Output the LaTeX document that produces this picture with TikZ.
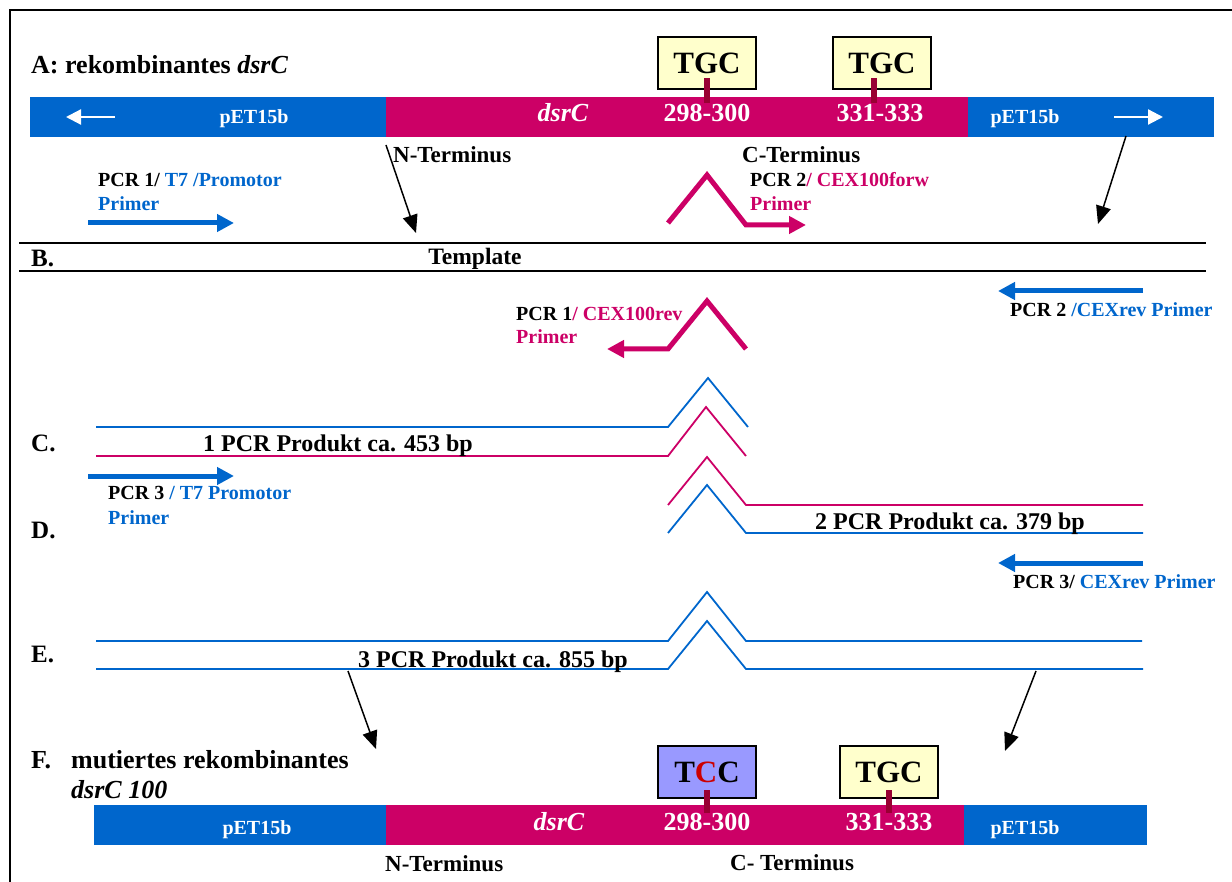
\documentclass[tikz,border=0pt]{standalone}
\usepackage{fontspec}
\setmainfont{Liberation Serif}
\usetikzlibrary{arrows,arrows.meta,positioning}
\definecolor{vecblue}{HTML}{0066CC}
\definecolor{genred}{HTML}{CC0066}
\definecolor{stemred}{HTML}{990033}
\definecolor{codonyellow}{HTML}{FFFFCC}
\definecolor{codonlila}{HTML}{9999FF}
\definecolor{mutred}{HTML}{CC0000}

\begin{document}
\begin{tikzpicture}[x=1pt,y=-1pt,
		lbl/.style={inner sep=0pt,anchor=base west,font=\fontsize{#1}{#1}\selectfont\bfseries},
		lbl/.default=20,
		bartxt/.style={inner sep=0pt,anchor=base,text=white,font=\fontsize{#1}{#1}\selectfont\bfseries},
		bartxt/.default=20,
		genetxt/.style={inner sep=0pt,anchor=base,text=white,font=\fontsize{26}{26}\selectfont\bfseries\itshape},
		codon/.style={draw,line width=1.5pt,minimum width=98pt,minimum height=52pt,inner sep=0pt,font=\fontsize{31}{31}\selectfont\bfseries},
		stem/.style={fill=stemred},
		strand/.style={line width=1.8pt,line join=miter},
		primer/.style={line width=5pt,line join=miter,-{Triangle[length=17pt,width=17pt]}},
		pointer/.style={line width=1.5pt,-{Triangle[length=18pt,width=15pt]}},
		barrow/.style={white,line width=2.2pt,-{Triangle[length=15pt,width=15pt]}}]
		\useasboundingbox (0,0) rectangle (1232,882);
		\draw[line width=1.6pt] (10,882) -- (10,10) -- (1232,10);

		% A: rekombinantes dsrC
		\node[lbl=26] (titleA) at (31,74) {A: rekombinantes \textit{dsrC}};
		\fill[vecblue] (30,97) rectangle (386,137);
		\fill[genred] (386,97) rectangle (968,137);
		\fill[vecblue] (968,97) rectangle (1214,137);
		\node[codon,fill=codonyellow] (codA1) at (707,63) {TGC};
		\node[codon,fill=codonyellow] (codA2) at (882,63) {TGC};
		\fill[stem] (704,78) rectangle (710,103);
		\fill[stem] (871,78) rectangle (877,103);
		\node[bartxt] (vecA1) at (254,124) {pET15b};
		\node[genetxt] (geneA) at (563,122) {dsrC};
		\node[bartxt=26] (posA1) at (707,122) {298-300};
		\node[bartxt=26] (posA2) at (880,122) {331-333};
		\node[bartxt] (vecA2) at (1025,124) {pET15b};
		\coordinate (arrA1s) at (115,117);
		\coordinate (arrA1e) at (66,117);
		\coordinate (arrA2s) at (1114,117);
		\coordinate (arrA2e) at (1163,117);
		\draw[barrow] (arrA1s) -- (arrA1e);
		\draw[barrow] (arrA2s) -- (arrA2e);
		\node[lbl=23] (nTermA) at (393,163) {N-Terminus};
		\node[lbl=23] (cTermA) at (742,163) {C-Terminus};

		% primers PCR 1 forw / PCR 2 forw
		\node[lbl] (pcr1f) at (98,187) {PCR 1/ {\color{vecblue}T7 /Promotor}};
		\node[lbl,text=vecblue] (pcr1fP) at (98,211) {Primer};
		\coordinate (t7As) at (88,223);
		\coordinate (t7Ae) at (234,223);
		\draw[primer,vecblue] (t7As) -- (t7Ae);
		\node[lbl] (pcr2f) at (750,187) {PCR 2{\color{genred}/ CEX100forw}};
		\node[lbl,text=genred] (pcr2fP) at (750,211) {Primer};
		\coordinate (cexFs) at (668,223);
		\coordinate (cexFe) at (806,225);
		\draw[primer,genred] (cexFs) -- (707,175) -- (746,225) -- (cexFe);

		\coordinate (nTailA) at (386,145);
		\coordinate (nHeadA) at (416,233);
		\coordinate (cTailA) at (1126,136);
		\coordinate (cHeadA) at (1098,224);
		\path[pointer]
		(nTailA) edge (nHeadA)
		(cTailA) edge (cHeadA);

		% B. Template
		\draw[line width=1.6pt] (19,243) -- (1206,243);
		\draw[line width=1.6pt] (19,271) -- (1206,271);
		\node[lbl=25] (secB) at (31,267) {B.};
		\node[lbl=23.5,anchor=base] (template) at (475,265) {Template};

		% reverse primers
		\coordinate (cexRevs) at (1143,291);
		\coordinate (cexReve) at (998,291);
		\draw[primer,vecblue] (cexRevs) -- (cexReve);
		\node[lbl] (pcr2r) at (1010,317) {PCR 2 {\color{vecblue}/CEXrev Primer}};
		\coordinate (c100Rs) at (746,349);
		\coordinate (c100Re) at (607,349);
		\draw[primer,genred] (c100Rs) -- (707,301) -- (668,349) -- (c100Re);
		\node[lbl] (pcr1r) at (516,321) {PCR 1{\color{genred}/ CEX100rev}};
		\node[lbl,text=genred] (pcr1rP) at (516,344) {Primer};

		% C. 1 PCR Produkt
		\draw[strand,vecblue] (96,427) -- (668,427) -- (708,378) -- (748,427);
		\draw[strand,genred] (96,456) -- (668,456) -- (706,407) -- (746,456);
		\node[lbl=25] (secC) at (31,452) {C.};
		\node[lbl=24,anchor=base] (prod1) at (338,452) {1 PCR Produkt ca. 453 bp};
		\coordinate (t7Bs) at (88,476);
		\coordinate (t7Be) at (234,476);
		\draw[primer,vecblue] (t7Bs) -- (t7Be);
		\node[lbl] (pcr3f) at (108,499) {PCR 3 {\color{vecblue}/ T7 Promotor}};
		\node[lbl,text=vecblue] (pcr3fP) at (108,524) {Primer};

		% D. 2 PCR Produkt
		\draw[strand,genred] (668,505) -- (707,457) -- (746,505) -- (1143,505);
		\draw[strand,vecblue] (668,533) -- (707,485) -- (746,533) -- (1143,533);
		\node[lbl=25] (secD) at (31,538) {D.};
		\node[lbl=24,anchor=base] (prod2) at (950,529) {2 PCR Produkt ca. 379 bp};
		\coordinate (cexRev2s) at (1143,563);
		\coordinate (cexRev2e) at (998,563);
		\draw[primer,vecblue] (cexRev2s) -- (cexRev2e);
		\node[lbl] (pcr3r) at (1013,588) {PCR 3/ {\color{vecblue}CEXrev Primer}};

		% E. 3 PCR Produkt
		\draw[strand,vecblue] (96,641) -- (668,641) -- (707,592) -- (746,641) -- (1142,641);
		\draw[strand,vecblue] (96,669) -- (668,669) -- (707,621) -- (746,669) -- (1143,669);
		\node[lbl=25] (secE) at (31,662) {E.};
		\node[lbl=24,anchor=base] (prod3) at (493,667) {3 PCR Produkt ca. 855 bp};
		\coordinate (nTailE) at (348,671);
		\coordinate (nHeadE) at (376,749);
		\coordinate (cTailE) at (1036,671);
		\coordinate (cHeadE) at (1005,751);
		\path[pointer]
		(nTailE) edge (nHeadE)
		(cTailE) edge (cHeadE);

		% F. mutiertes rekombinantes dsrC 100
		\node[lbl=26] (secF) at (31,768) {F.};
		\node[lbl=26] (titleF) at (71,768) {mutiertes rekombinantes};
		\node[lbl=26] (titleF2) at (71,798) {\textit{dsrC 100}};
		\fill[vecblue] (94,805) rectangle (386,845);
		\fill[genred] (386,805) rectangle (964,845);
		\fill[vecblue] (964,805) rectangle (1147,845);
		\node[codon,fill=codonlila] (codF1) at (707,772) {T{\color{mutred}C}C};
		\node[codon,fill=codonyellow] (codF2) at (889,772) {TGC};
		\fill[stem] (704,790) rectangle (710,813);
		\fill[stem] (886,790) rectangle (892,813);
		\node[bartxt] (vecF1) at (257,834) {pET15b};
		\node[genetxt] (geneF) at (559,830) {dsrC};
		\node[bartxt=26] (posF1) at (707,830) {298-300};
		\node[bartxt=26] (posF2) at (889,830) {331-333};
		\node[bartxt] (vecF2) at (1025,834) {pET15b};
		\node[lbl=23] (nTermF) at (385,871) {N-Terminus};
		\node[lbl=23] (cTermF) at (730,870) {C- Terminus};
	\end{tikzpicture}
\end{document}
